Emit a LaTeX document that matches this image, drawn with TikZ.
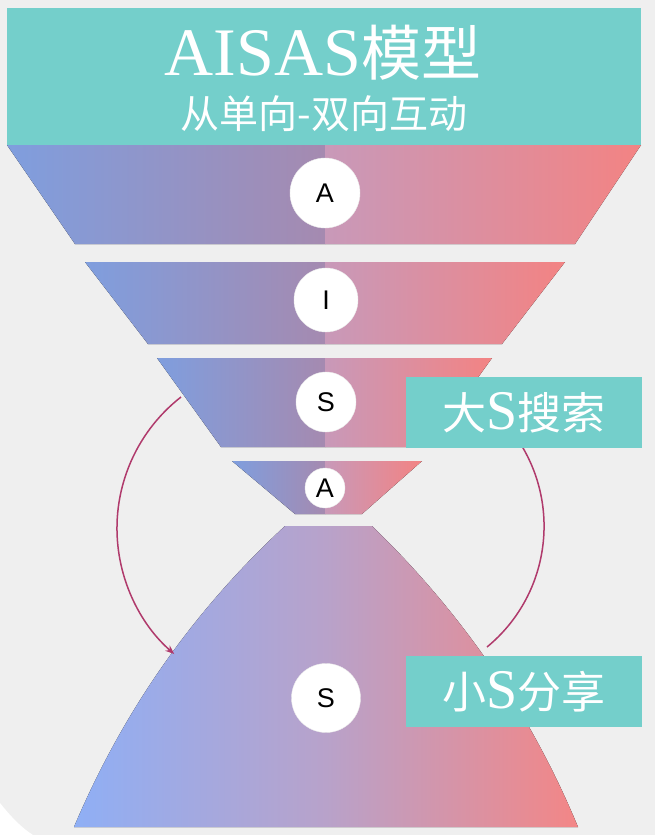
\documentclass[tikz,border=0pt]{standalone}
\usepackage{fontspec}
\setmainfont{Liberation Serif}
\newfontfamily\cjk{Noto Sans CJK SC}
\newfontfamily\letterfont{Liberation Sans}
\usepackage{tikz}
\usetikzlibrary{arrows.meta, positioning, calc}
\definecolor{headteal}{HTML}{74CFCB}
\definecolor{pagegray}{HTML}{EFEFEF}
\definecolor{funnelblue}{HTML}{7F9EDE}
\definecolor{funnelpurple}{HTML}{A58AB0}
\definecolor{funnelmauve}{HTML}{C899B9}
\definecolor{funnelred}{HTML}{F38383}
\definecolor{bellblue}{HTML}{8FAFF5}
\definecolor{bellmid}{HTML}{B8A2CA}
\definecolor{bellred}{HTML}{F38686}
\definecolor{arcred}{HTML}{B03A6C}

\begin{document}
\begin{tikzpicture}[x=1pt, y=-1pt,
	lefthalf/.style={left color=funnelblue, right color=funnelpurple},
	righthalf/.style={left color=funnelmauve, right color=funnelred},
	stage/.style={circle, fill=white, draw=black!8, inner sep=0pt, minimum size=#1, font=\letterfont\fontsize{27}{27}\selectfont},
	tag/.style={fill=headteal, text=white, inner sep=0pt, minimum width=236pt, minimum height=71pt, font=\cjk\fontsize{44}{44}\selectfont},
	backarc/.style={arcred, line width=1.5pt}]
				%%\draw[red] (0,0) grid[step=50] (655,835);
				\fill[pagegray] (0,0) rectangle (655,835);
				\fill[white] (0,803) .. controls (12,818) and (22,828) .. (33,835) -- (0,835) -- cycle;
				\useasboundingbox (0,0) rectangle (655,835);
				
				\node[fill=headteal, inner sep=0pt, minimum width=634pt, minimum height=137pt] (head) at (324,76.5) {};
				\node[anchor=base, text=white] (title) at (323,75) {\fontsize{68}{68}\selectfont AISAS{\cjk\fontsize{60}{60}\selectfont 模型}};
				\node[anchor=base, text=white] (subtitle) at (324,128) {\cjk\fontsize{39}{39}\selectfont 从单向-双向互动};
				
				\foreach \tl/\tr/\br/\bl/\yt/\yb in {7/641/575/75/145/244, 85/565/502/148/262/344, 157/492/428/221/358/447, 232/422/362/295/461/514}{
					\fill[lefthalf] (\tl,\yt) -- (325,\yt) -- (325,\yb) -- (\bl,\yb) -- cycle;
					\fill[righthalf] (325,\yt) -- (\tr,\yt) -- (\br,\yb) -- (325,\yb) -- cycle;
				}
				\fill[left color=bellblue, right color=bellred, middle color=bellmid] (285,526) -- (372,526) .. controls (460,611) and (530,711) .. (578,827) -- (74,827) .. controls (123,711) and (193,611) .. (285,526) -- cycle;
				
				\coordinate (leftstart) at (181,397);
				\coordinate (rightstart) at (487,647);
				\draw[backarc, -{Stealth[length=9pt, width=7pt]}] (leftstart) arc[start angle=-128, end angle=-229, radius=166.6];
				\draw[backarc] (rightstart) arc[start angle=50.6, end angle=-33, radius=156.2];
				
				\node[stage=70pt] (attention) at (325,193) {A};
				\node[stage=64pt] (interest) at (326,300) {I};
				\node[stage=60pt] (search) at (326,402) {S};
				\node[stage=40pt] (action) at (325,488) {A};
				\node[stage=69pt] (share) at (326,698) {S};
				
				\node[tag] (bigsearch) at (524,412.5) {大{\rmfamily\fontsize{56}{56}\selectfont S}搜索};
				\node[tag] (smallshare) at (524,691.5) {小{\rmfamily\fontsize{56}{56}\selectfont S}分享};
\end{tikzpicture}
\end{document}
